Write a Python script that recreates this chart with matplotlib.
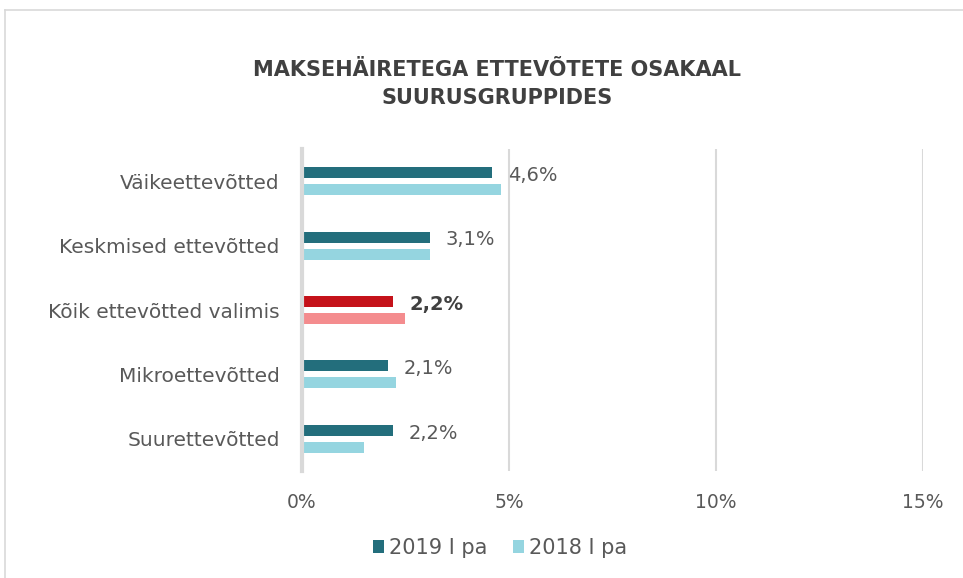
import matplotlib
matplotlib.use('Agg')
import matplotlib.pyplot as plt
import numpy as np
from matplotlib.lines import Line2D
from matplotlib.patches import Patch

# andmed
categories = ['Väikeettevõtted', 'Keskmised ettevõtted', 'Kõik ettevõtted valimis',
              'Mikroettevõtted', 'Suurettevõtted']
val_2019 = [4.6, 3.08, 2.2, 2.08, 2.2]
val_2018 = [4.8, 3.1, 2.48, 2.27, 1.5]
labels_2019 = ['4,6%', '3,1%', '2,2%', '2,1%', '2,2%']
xticks = [0, 5, 10, 15]
xticklabels = ['0%', '5%', '10%', '15%']
series_names = ['2019 I pa', '2018 I pa']
highlight = 'Kõik ettevõtted valimis'

C_2019 = '#236E7C'
C_2018 = '#95D5E0'
C_RED = '#C5121A'
C_PINK = '#F48C8E'
C_TEXT = '#595959'
C_GRID = '#D9D9D9'

plt.rcParams['font.family'] = ['DejaVu Sans']

fig = plt.figure(figsize=(9.63, 5.78), dpi=100)
ax = fig.add_axes([302/963, 1 - 471/578, 621/963, 322/578])

y = np.arange(len(categories))
off = 0.132
h = 0.17
c19 = [C_RED if c == highlight else C_2019 for c in categories]
c18 = [C_PINK if c == highlight else C_2018 for c in categories]
ax.barh(y - off, val_2019, height=h, color=c19, zorder=3)
ax.barh(y + off, val_2018, height=h, color=c18, zorder=3)

for i, (v, lab) in enumerate(zip(val_2019, labels_2019)):
    bold = categories[i] == highlight
    ax.annotate(lab, xy=(v, y[i] - off), xytext=(11.5, -2), textcoords='offset points',
                ha='left', va='center', fontsize=14,
                color='#404040' if bold else C_TEXT,
                fontweight='bold' if bold else 'normal')

ax.set_xlim(0, 15)
ax.set_ylim(len(categories) - 0.5, -0.5)
ax.set_xticks(xticks)
ax.set_xticklabels(xticklabels)
ax.set_yticks(y)
ax.set_yticklabels(categories)
ax.tick_params(axis='x', length=0, pad=16, labelsize=13.5, labelcolor=C_TEXT)
ax.tick_params(axis='y', length=0, pad=16, labelsize=14.5, labelcolor=C_TEXT)
ax.grid(axis='x', color=C_GRID, linewidth=1.5, zorder=0)
for s in ['top', 'right', 'bottom']:
    ax.spines[s].set_visible(False)
ax.spines['left'].set_color(C_GRID)
ax.spines['left'].set_linewidth(3)
ax.spines['left'].set_zorder(4)

fig.text(497/963, 1 - 84/578, 'MAKSEHÄIRETEGA ETTEVÕTETE OSAKAAL\nSUURUSGRUPPIDES',
         ha='center', va='center', fontsize=15, fontweight='bold', color='#404040',
         linespacing=1.5)

handles = [Patch(facecolor=C_2019), Patch(facecolor=C_2018)]
fig.legend(handles, series_names, loc='center', bbox_to_anchor=(500/963, 1 - 548/578),
           ncol=2, frameon=False, fontsize=15, labelcolor=C_TEXT,
           handlelength=0.55, handleheight=0.55, handletextpad=0.25, columnspacing=1.2)

# raam
fig.add_artist(Line2D([5/963, 5/963], [0, 1 - 10/578], color=C_GRID, lw=1.2))
fig.add_artist(Line2D([5/963, 1], [1 - 10/578, 1 - 10/578], color=C_GRID, lw=1.2))

plt.savefig('out.png', dpi=100, facecolor='white')
plt.close()
